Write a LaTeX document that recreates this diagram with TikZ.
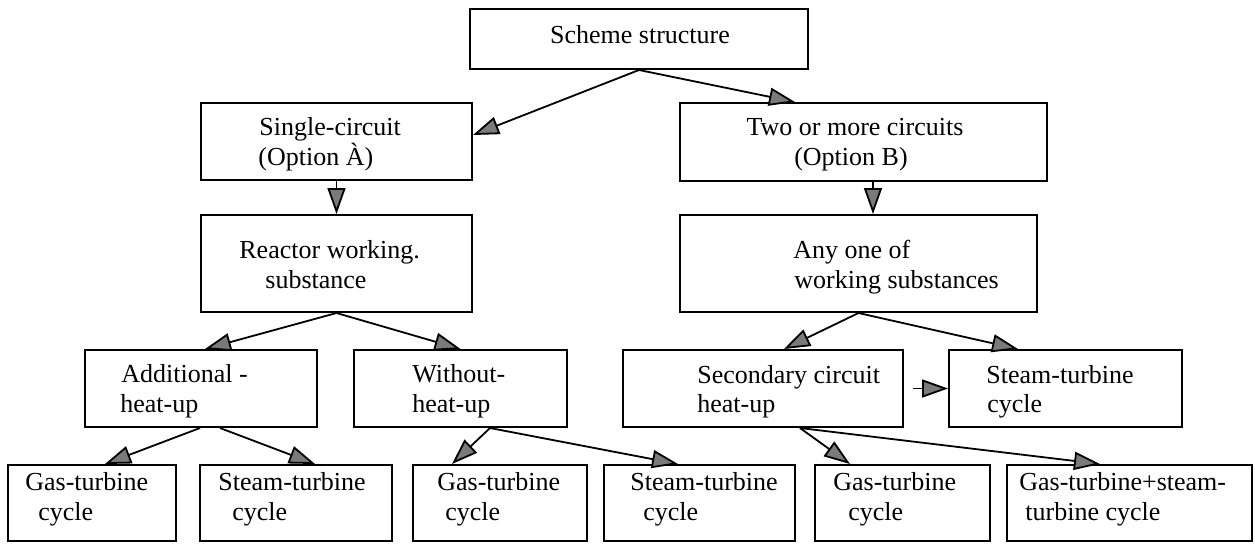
\documentclass[tikz,border=0pt]{standalone}
\usepackage{fontspec}
\setmainfont{Liberation Serif}
\usetikzlibrary{arrows.meta,calc}
\definecolor{headgray}{HTML}{7A7A7A}
\begin{document}
\begin{tikzpicture}[x=0.5pt,y=-0.5pt,
  box/.style={draw=black,line width=1pt,rectangle,inner sep=0pt},
  lbl/.style={inner sep=0pt,anchor=base west,font=\fontsize{13pt}{15pt}\selectfont},
  clbl/.style={inner sep=0pt,anchor=base,font=\fontsize{13pt}{15pt}\selectfont},
  arr/.style={draw=black,line width=0.9pt,-{Triangle[length=13pt,width=9pt,fill=headgray]}}]
\useasboundingbox (0,0) rectangle (1255,543);
% boxes
\node[box,minimum width=169pt,minimum height=30pt] (sch) at (639,39) {};
\node[box,minimum width=135.5pt,minimum height=38.5pt] (single) at (336.5,141.5) {};
\node[box,minimum width=183.5pt,minimum height=39pt] (two) at (863.5,142) {};
\node[box,minimum width=135.5pt,minimum height=48.5pt] (reactor) at (336.5,263.5) {};
\node[box,minimum width=178.5pt,minimum height=48.5pt] (any) at (858.5,263.5) {};
\node[box,minimum width=116pt,minimum height=38.5pt] (addl) at (201,388.5) {};
\node[box,minimum width=106.5pt,minimum height=38.5pt] (without) at (460.5,388.5) {};
\node[box,minimum width=140pt,minimum height=38.5pt] (secondary) at (763,388.5) {};
\node[box,minimum width=116.5pt,minimum height=38.5pt] (steamr) at (1065.5,388.5) {};
\node[box,minimum width=84pt,minimum height=38pt] (gas1) at (92,503) {};
\node[box,minimum width=96pt,minimum height=38pt] (steam1) at (296,503) {};
\node[box,minimum width=87pt,minimum height=38pt] (gas2) at (500,503) {};
\node[box,minimum width=95.5pt,minimum height=38pt] (steam2) at (699.5,503) {};
\node[box,minimum width=87.5pt,minimum height=38pt] (gas3) at (902.5,503) {};
\node[box,minimum width=122.5pt,minimum height=38pt] (gassteam) at (1129.5,503) {};
% texts
\node[clbl] (t0) at (640,43) {Scheme structure};
\node[lbl] (t1a) at (259,135) {Single-circuit};
\node[lbl] (t1b) at (258,165) {(Option À)};
\node[clbl] (t2a) at (855,135) {Two or more circuits};
\node[clbl] (t2b) at (851,165) {(Option B)};
\node[lbl] (t3a) at (239,258) {Reactor working.};
\node[lbl] (t3b) at (265,288) {substance};
\node[lbl] (t4a) at (793,258) {Any one of};
\node[lbl] (t4b) at (794,288) {working substances};
\node[lbl] (t5a) at (121,382) {Additional -};
\node[lbl] (t5b) at (120,412) {heat-up};
\node[lbl] (t6a) at (412,382) {Without-};
\node[lbl] (t6b) at (412,412) {heat-up};
\node[lbl] (t7a) at (697,383) {Secondary circuit};
\node[lbl] (t7b) at (697,412) {heat-up};
\node[lbl] (t8a) at (986,383) {Steam-turbine};
\node[lbl] (t8b) at (987,412) {cycle};
\node[lbl] (t9a) at (25,490) {Gas-turbine};
\node[lbl] (t9b) at (38,520) {cycle};
\node[lbl] (t10a) at (218,490) {Steam-turbine};
\node[lbl] (t10b) at (232,520) {cycle};
\node[lbl] (t11a) at (437,490) {Gas-turbine};
\node[lbl] (t11b) at (445,520) {cycle};
\node[lbl] (t12a) at (630,490) {Steam-turbine};
\node[lbl] (t12b) at (643,520) {cycle};
\node[lbl] (t13a) at (833,490) {Gas-turbine};
\node[lbl] (t13b) at (848,520) {cycle};
\node[lbl] (t14a) at (1019,490) {Gas-turbine+steam-};
\node[lbl] (t14b) at (1025,520) {turbine cycle};
% connectors
\draw[arr] (sch.south) -- ([yshift=3.25pt]single.east);
\draw[arr] (sch.south) -- ([xshift=-34.25pt]two.north);
\draw[arr] (single.south) -- (reactor.north);
\draw[arr] ([xshift=4.75pt]two.south) -- ([xshift=4.75pt]two.south |- any.north);
\draw[arr] (reactor.south) -- ([xshift=2pt]addl.north);
\draw[arr] (reactor.south) -- (without.north);
\draw[arr] (any.south) -- ([xshift=10.5pt]secondary.north);
\draw[arr] (any.south) -- ([xshift=-23.75pt]steamr.north);
\draw[arr,shorten <=4.5pt] (secondary.east) -- (steamr.west);
\draw[arr] ([xshift=-0.5pt]addl.south) -- ([xshift=6.5pt]gas1.north);
\draw[arr] ([xshift=9.5pt]addl.south) -- ([xshift=9.5pt]steam1.north);
\draw[arr] ([xshift=14.75pt]without.south) -- ([xshift=-24pt]gas2.north);
\draw[arr] ([xshift=14.75pt]without.south) -- ([xshift=-10.75pt]steam2.north);
\draw[arr] ([xshift=18.5pt]secondary.south) -- ([xshift=-26.25pt]gas3.north);
\draw[arr] ([xshift=18.5pt]secondary.south) -- ([xshift=-14.75pt]gassteam.north);
\end{tikzpicture}
\end{document}
